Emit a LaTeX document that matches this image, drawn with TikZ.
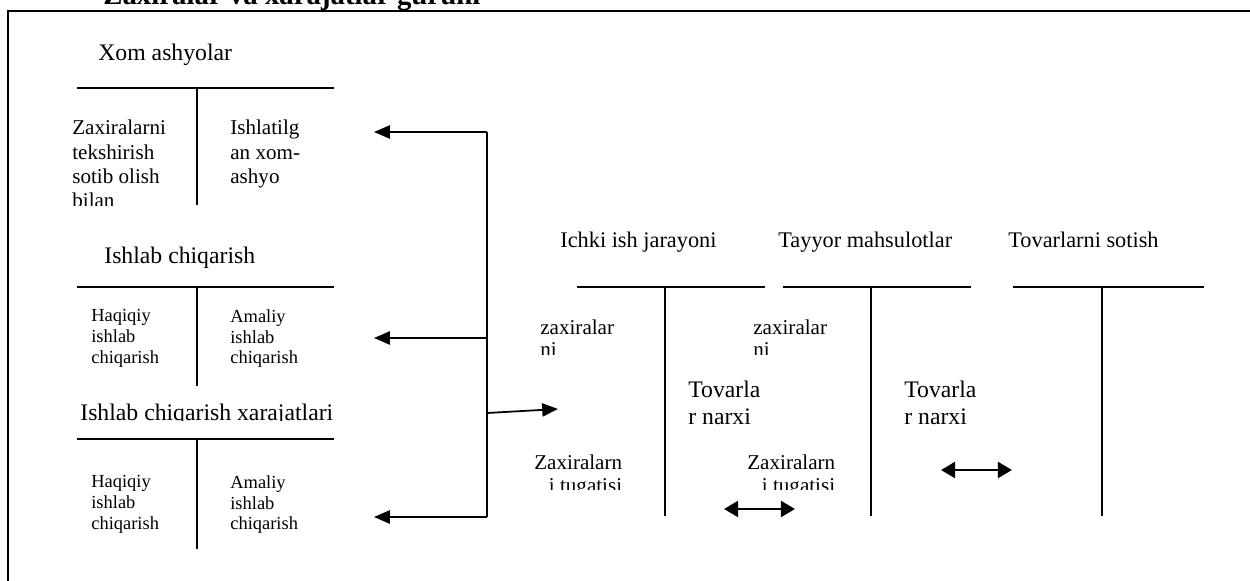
\documentclass[tikz,border=0pt]{standalone}
\usepackage{fontspec}
\setmainfont{Liberation Serif}
\usetikzlibrary{arrows.meta}

\tikzset{
  head/.style={font=\fontsize{13.5}{16}\selectfont, inner sep=0pt, anchor=base west},
  rhead/.style={font=\fontsize{12.7}{15}\selectfont, inner sep=0pt, anchor=base west},
  cell/.style={font=\fontsize{12}{13.8}\selectfont, inner sep=0pt, anchor=north west, align=left},
  smallcell/.style={font=\fontsize{10.5}{11.9}\selectfont, inner sep=0pt, anchor=north west, align=left},
  tline/.style={line width=1pt},
  flow/.style={line width=1pt, -{Triangle[length=9pt,width=7.5pt]}},
  twoway/.style={line width=1.6pt, {Triangle[length=8pt,width=9pt]}-{Triangle[length=8pt,width=9pt]}},
}

\begin{document}
\begin{tikzpicture}[x=0.02cm, y=-0.02cm]
  \useasboundingbox (0,0) rectangle (1250,581);
  \clip (0,0) rectangle (1250,581);

  % Frame and title
  \draw[line width=1.1pt] (8,581) -- (8,11) -- (1250,11);
  \node[font=\fontsize{16.4}{18}\selectfont\bfseries, inner sep=0pt, anchor=base west] (title) at (103,4.5) {Zaxiralar va xarajatlar guruhi};

  % Left accounts
  \foreach \ya/\yb in {88/205, 287/386, 439/549}
    \draw[tline] (77,\ya) -- (334,\ya) (197,\ya) -- (197,\yb);

  \node[head] (xom) at (98,61) {Xom ashyolar};
  \begin{scope}
    \clip (60,100) rectangle (196,205);
    \node[cell] (zaxtek) at (72,120) {Zaxiralarni\\tekshirish\\sotib olish\\bilan};
  \end{scope}
  \node[cell] (ishlat) at (230,120) {Ishlatilg\\an xom-\\ashyo};

  \node[head] (ishlab) at (104,263) {Ishlab chiqarish};
  \node[smallcell] (haq1) at (91,309) {Haqiqiy\\ishlab\\chiqarish};
  \node[smallcell] (amal1) at (230,309) {Amaliy\\ishlab\\chiqarish};

  \begin{scope}
    \clip (60,395) rectangle (350,420.5);
    \node[head] (xarajat) at (80,420) {Ishlab chiqarish xarajatlari};
  \end{scope}
  \node[smallcell] (haq2) at (91,475) {Haqiqiy\\ishlab\\chiqarish};
  \node[smallcell] (amal2) at (230,475) {Amaliy\\ishlab\\chiqarish};

  % Right accounts
  \foreach \xa/\xm/\xb in {577/665/765, 783/871/971, 1013/1102/1204}
    \draw[tline] (\xa,287) -- (\xb,287) (\xm,287) -- (\xm,516);

  \node[rhead] (ichki) at (560,247) {Ichki ish jarayoni};
  \node[rhead] (tayyor) at (778,247) {Tayyor mahsulotlar};
  \node[rhead] (sotish) at (1008,247) {Tovarlarni sotish};

  \begin{scope}
    \clip (520,300) rectangle (980,354);
    \node[cell, font=\fontsize{12}{12.5}\selectfont] (zax1) at (540,319.5) {zaxiralar\\ni};
    \node[cell, font=\fontsize{12}{12.5}\selectfont] (zax2) at (753,319.5) {zaxiralar\\ni};
  \end{scope}
  \node[cell, font=\fontsize{13.5}{15.3}\selectfont] (nar1) at (688,381) {Tovarla\\r narxi};
  \node[cell, font=\fontsize{13.5}{15.3}\selectfont] (nar2) at (904,381) {Tovarla\\r narxi};
  \begin{scope}
    \clip (520,440) rectangle (980,489);
    \node[cell, align=right, font=\fontsize{12}{13}\selectfont] (tug1) at (534,454.5) {Zaxiralarn\\i tugatisi};
    \node[cell, align=right, font=\fontsize{12}{13}\selectfont] (tug2) at (747,454.5) {Zaxiralarn\\i tugatisi};
  \end{scope}

  % Connectors
  \coordinate (tA) at (487,132);
  \coordinate (tB) at (487,338);
  \coordinate (tC) at (487,413);
  \coordinate (tD) at (487,517);
  \coordinate (toXom) at (374,132);
  \coordinate (toIsh) at (374,338);
  \coordinate (toXar) at (374,517);
  \coordinate (toIchki) at (558,409);
  \draw[line width=0.8pt] (tA) -- (tD);
  \draw[flow] (tA) -- (toXom);
  \draw[flow] (tB) -- (toIsh);
  \draw[flow] (tD) -- (toXar);
  \draw[flow] (tC) -- (toIchki);

  \coordinate (dA1) at (724,509);
  \coordinate (dA2) at (795,509);
  \coordinate (dB1) at (941,470);
  \coordinate (dB2) at (1012,470);
  \draw[twoway] (dA1) -- (dA2);
  \draw[twoway] (dB1) -- (dB2);
\end{tikzpicture}
\end{document}
